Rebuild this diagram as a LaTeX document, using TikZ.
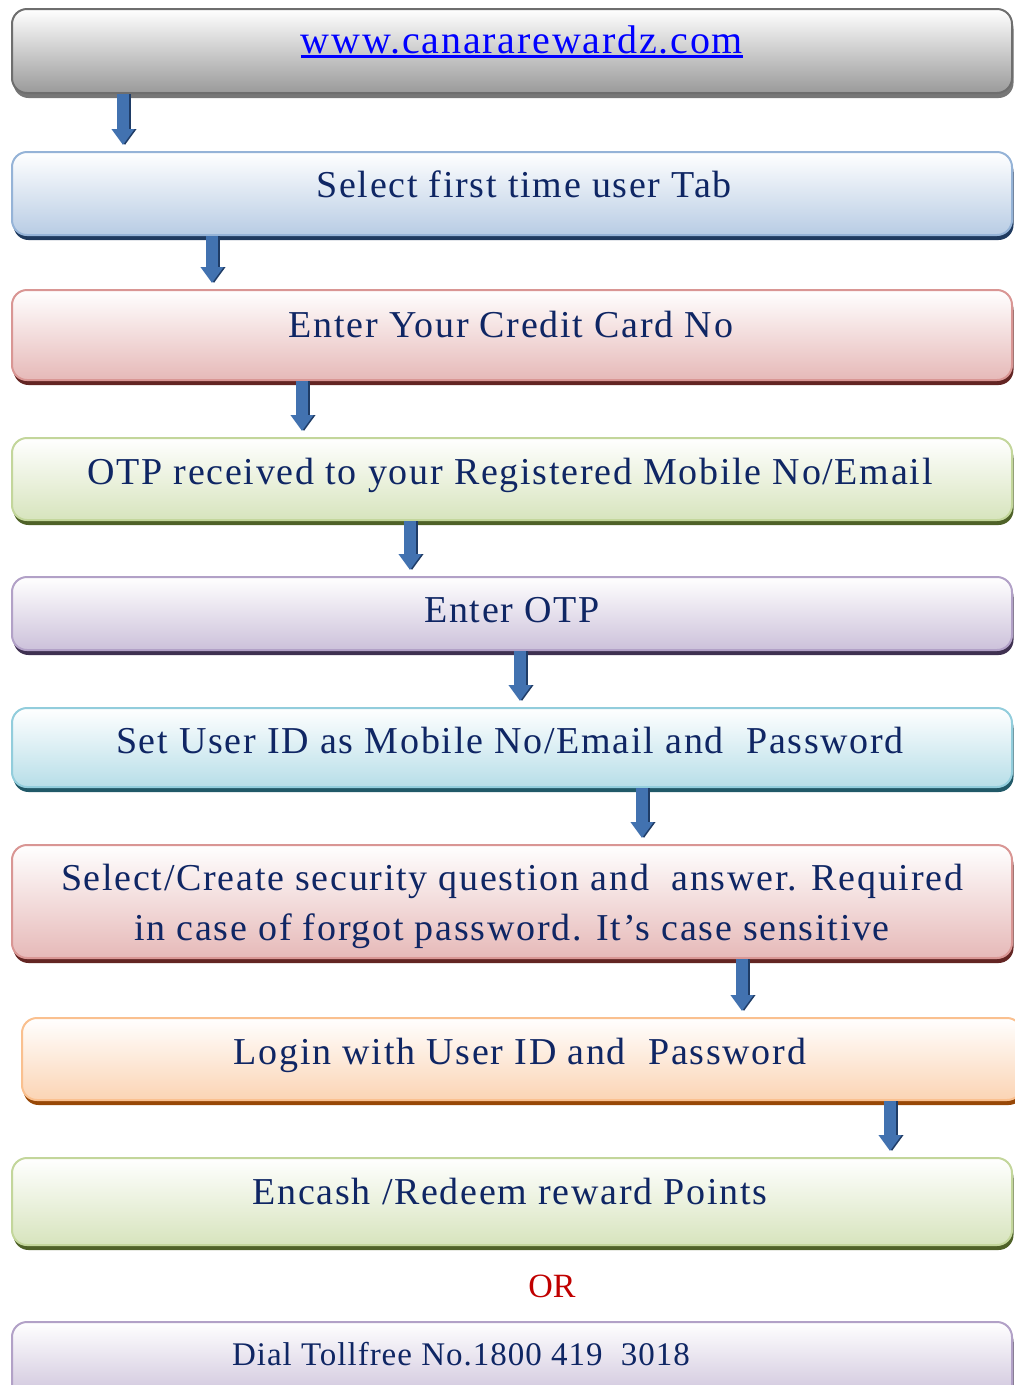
\documentclass[tikz,border=0pt]{standalone}
\usepackage{fontspec}
\setmainfont{Liberation Serif}
\newfontfamily\boxfont{Liberation Serif}[LetterSpace=4.5]
\newfontfamily\dialfont{Liberation Serif}[LetterSpace=3]
\usepackage{xcolor}
\usetikzlibrary{arrows.meta, shadows}

\definecolor{navytext}{HTML}{0F2664}
\definecolor{urlblue}{HTML}{0000FF}
\definecolor{orred}{HTML}{C00000}
\definecolor{arrowblue}{HTML}{4272B0}
\definecolor{arrowdark}{HTML}{1F3C66}
% fonds / bords / ombres
\definecolor{graybot}{HTML}{9A9A9A}  \definecolor{grayline}{HTML}{6E6E6E}  \definecolor{grayshadow}{HTML}{777777}
\definecolor{bluebot}{HTML}{B8CCE4}  \definecolor{blueline}{HTML}{95B3D7}  \definecolor{blueshadow}{HTML}{1F3A5F}
\definecolor{redbot}{HTML}{E6B9B8}   \definecolor{redline}{HTML}{D99694}   \definecolor{redshadow}{HTML}{632523}
\definecolor{greenbot}{HTML}{D7E4BD} \definecolor{greenline}{HTML}{C3D69B} \definecolor{greenshadow}{HTML}{4F6228}
\definecolor{purpbot}{HTML}{CCC1DA}  \definecolor{purpline}{HTML}{B2A1C7}  \definecolor{purpshadow}{HTML}{3F3151}
\definecolor{aquabot}{HTML}{B7DEE8}  \definecolor{aqualine}{HTML}{92CDDC}  \definecolor{aquashadow}{HTML}{215968}
\definecolor{orangebot}{HTML}{FBD4B4}\definecolor{orangeline}{HTML}{FAC08F}\definecolor{orangeshadow}{HTML}{984807}

\begin{document}
\begin{tikzpicture}[
        x=1pt, y=-1pt,
        % Style des boîtes
        stepbox/.style n args={3}{
            rectangle,
            rounded corners=15pt,
            line width=2pt,
            minimum width=1000pt,
            top color=white,
            bottom color=#1,
            draw=#2,
            drop shadow={shadow xshift=1.5pt, shadow yshift=-5pt, fill=#3, opacity=1}
        },
        % Style des textes
        steptext/.style={
            anchor=base,
            inner sep=0pt,
            align=center,
            text=navytext,
            font=\boxfont\fontsize{38}{50}\selectfont
        },
        % Style des flèches
        flow/.style={
            -{Triangle[width=22pt, length=16pt]},
            line width=12pt,
            draw=arrowblue,
            shorten >=6pt
        },
        flowshade/.style={
            flow,
            draw=arrowdark,
            transform canvas={xshift=2pt}
        }
    ]
    \useasboundingbox (0,0) rectangle (1015,1385);

    % --- SITE WEB ---
    \node[stepbox={graybot}{grayline}{grayshadow}, minimum height=84pt] (web) at (512,51) {};
    \node[steptext, text=urlblue, font=\boxfont\fontsize{40}{48}\selectfont] (webtext) at (522,53) {www.canararewardz.com};
    \draw[urlblue, line width=2.5pt] ([yshift=-3.5pt]webtext.base west) -- ([yshift=-3.5pt]webtext.base east);

    % --- ÉTAPES ---
    \node[stepbox={bluebot}{blueline}{blueshadow}, minimum height=83pt] (select) at (512,193.5) {};
    \node[steptext] (selecttext) at (524,197) {Select first time user Tab};

    \node[stepbox={redbot}{redline}{redshadow}, minimum height=90pt] (card) at (512,335) {};
    \node[steptext] (cardtext) at (511,337) {Enter Your Credit Card No};

    \node[stepbox={greenbot}{greenline}{greenshadow}, minimum height=82pt] (otp) at (512,479) {};
    \node[steptext] (otptext) at (510,484) {OTP received to your Registered Mobile No/Email};

    \node[stepbox={purpbot}{purpline}{purpshadow}, minimum height=73pt] (enterotp) at (512,613.5) {};
    \node[steptext] (enterotptext) at (512,622) {Enter OTP};

    \node[stepbox={aquabot}{aqualine}{aquashadow}, minimum height=79pt] (userid) at (512,747.5) {};
    \node[steptext] (useridtext) at (510,753) {Set User ID as Mobile No/Email and~~Password};

    \node[stepbox={redbot}{redline}{redshadow}, minimum height=113pt] (secq) at (512,901.5) {};
    \node[steptext] (secqtext) at (512,940) {Select/Create security question and~~answer. Required\\in case of forgot password. It’s case sensitive};

    \node[stepbox={orangebot}{orangeline}{orangeshadow}, minimum height=82pt] (login) at (522,1059) {};
    \node[steptext] (logintext) at (520,1064) {Login with User ID and~~Password};

    \node[stepbox={greenbot}{greenline}{greenshadow}, minimum height=87pt] (redeem) at (512,1201.5) {};
    \node[steptext] (redeemtext) at (510,1204) {Encash /Redeem reward Points};

    % --- ALTERNATIVE ---
    \node[anchor=base, inner sep=0pt, text=orred, font=\fontsize{34}{40}\selectfont] (or) at (552,1297) {OR};

    \node[stepbox={purpbot}{purpline}{purpshadow}, minimum height=80pt] (dial) at (512,1362) {};
    \node[steptext, font=\dialfont\fontsize{33}{40}\selectfont] (dialtext) at (461,1365) {Dial Tollfree No.1800 419~~3018};

    % --- FLÈCHES DE CONNEXION ---
    \foreach \a/\b/\x in {web/select/123, select/card/212, card/otp/302, otp/enterotp/410,
                          enterotp/userid/520, userid/secq/642, secq/login/742, login/redeem/890}{
        \draw[flowshade] (\x,0 |- \a.south) -- (\x,0 |- \b.north);
        \draw[flow] (\x,0 |- \a.south) -- (\x,0 |- \b.north);
    }

\end{tikzpicture}
\end{document}
